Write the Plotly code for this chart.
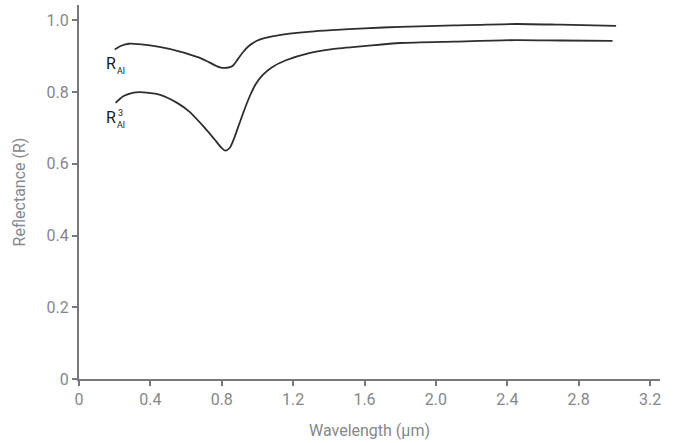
import plotly.graph_objects as go

wavelength_r = [0.20, 0.24, 0.28, 0.35, 0.45, 0.56, 0.67, 0.73, 0.79, 0.83, 0.86, 0.89, 0.92, 0.95,
                1.00, 1.05, 1.10, 1.18, 1.30, 1.42, 1.60, 1.80, 2.10, 2.45, 2.70, 3.01]
refl_r = [0.919, 0.930, 0.935, 0.933, 0.926, 0.914, 0.897, 0.883, 0.869, 0.868, 0.873, 0.892, 0.912, 0.928,
          0.944, 0.952, 0.957, 0.963, 0.969, 0.973, 0.978, 0.982, 0.986, 0.990, 0.988, 0.985]

wavelength_r3 = [0.205, 0.25, 0.30, 0.34, 0.45, 0.55, 0.62, 0.70, 0.76, 0.80, 0.82, 0.845, 0.87, 0.90, 0.93,
                 0.96, 0.99, 1.03, 1.08, 1.16, 1.29, 1.42, 1.61, 1.80, 2.10, 2.45, 2.70, 2.99]
refl_r3 = [0.770, 0.789, 0.798, 0.800, 0.793, 0.770, 0.745, 0.703, 0.668, 0.644, 0.637, 0.645, 0.672, 0.714, 0.755,
           0.792, 0.822, 0.848, 0.869, 0.889, 0.909, 0.920, 0.929, 0.937, 0.941, 0.945, 0.944, 0.943]

x_ticks = [0, 0.4, 0.8, 1.2, 1.6, 2.0, 2.4, 2.8, 3.2]
x_tick_labels = ["0", "0.4", "0.8", "1.2", "1.6", "2.0", "2.4", "2.8", "3.2"]
y_ticks = [0, 0.2, 0.4, 0.6, 0.8, 1.0]
y_tick_labels = ["0", "0.2", "0.4", "0.6", "0.8", "1.0"]

line_color = "#2e2e2e"
axis_color = "#76787c"
text_gray = "#85878b"
font_family = "Roboto"

fig = go.Figure()
fig.add_trace(go.Scatter(x=wavelength_r, y=refl_r, mode="lines",
                         line=dict(color=line_color, width=1.8, shape="spline", smoothing=0.7),
                         showlegend=False, hoverinfo="skip"))
fig.add_trace(go.Scatter(x=wavelength_r3, y=refl_r3, mode="lines",
                         line=dict(color=line_color, width=1.8, shape="spline", smoothing=0.7),
                         showlegend=False, hoverinfo="skip"))

annos = [
    dict(x=0.178, y=0.881, text="R", size=16),
    dict(x=0.236, y=0.859, text="Al", size=9),
    dict(x=0.178, y=0.730, text="R", size=16),
    dict(x=0.232, y=0.741, text="3", size=9),
    dict(x=0.236, y=0.708, text="Al", size=9),
]
for a in annos:
    fig.add_annotation(x=a["x"], y=a["y"], xref="x", yref="y", text=a["text"],
                       showarrow=False, font=dict(family=font_family, size=a["size"], color="#1a1a1a"),
                       xanchor="center", yanchor="middle")

fig.update_layout(
    width=678, height=443,
    margin=dict(l=79, r=18, t=5, b=64),
    paper_bgcolor="white", plot_bgcolor="white",
    font=dict(family=font_family, color=text_gray, size=16),
    xaxis=dict(range=[0, 3.256], tickvals=x_ticks, ticktext=x_tick_labels,
               showgrid=False, zeroline=False, showline=True, linecolor=axis_color, linewidth=2,
               ticks="outside", ticklen=5, tickwidth=1.5, tickcolor=axis_color,
               tickfont=dict(size=16, color=text_gray, family=font_family),
               title=dict(text="Wavelength (µm)", font=dict(size=16, color=text_gray), standoff=17)),
    yaxis=dict(range=[0, 1.043], tickvals=y_ticks, ticktext=y_tick_labels,
               showgrid=False, zeroline=False, showline=True, linecolor=axis_color, linewidth=2,
               ticks="outside", ticklen=5, tickwidth=1.5, tickcolor=axis_color,
               tickfont=dict(size=16, color=text_gray, family=font_family),
               title=dict(text="Reflectance (R)", font=dict(size=16, color=text_gray), standoff=17)),
)

fig.write_html("out.html", config={"displayModeBar": False},
               post_script="document.body.style.margin='0';document.body.style.overflow='hidden';")
